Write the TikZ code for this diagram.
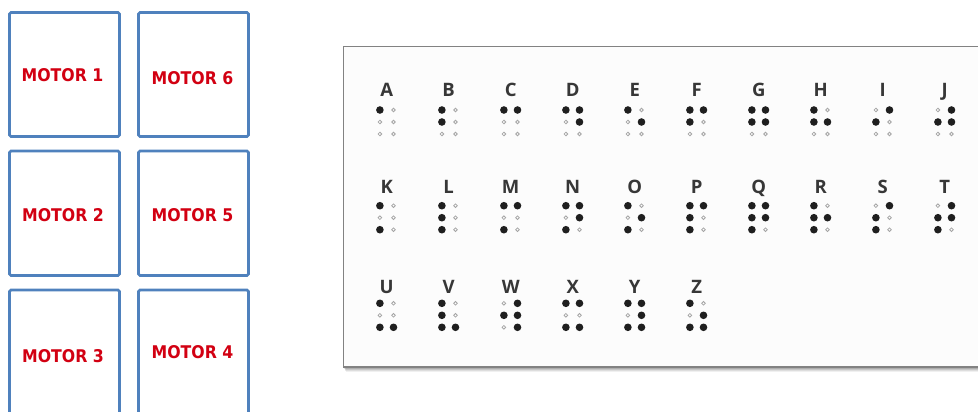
\documentclass[tikz,border=0pt]{standalone}
\usepackage{fontspec}
\setmainfont{Open Sans}
\newfontfamily\motorfont{DejaVu Sans Condensed}
\newfontfamily\letterfont{Open Sans}
\definecolor{boxblue}{RGB}{79,129,189}
\definecolor{motorred}{RGB}{210,0,18}
\definecolor{lettergray}{RGB}{55,55,55}
\definecolor{panelborder}{RGB}{130,130,130}
\definecolor{emptydot}{RGB}{165,165,165}
\tikzset{
  motorbox/.style={draw=boxblue, line width=2.6pt, rounded corners=1.5pt, fill=white},
  motorlabel/.style={text=motorred, font=\motorfont\bfseries\fontsize{17.5}{18}\selectfont, inner sep=0pt},
  brletter/.style={text=lettergray, font=\letterfont\bfseries\fontsize{18.5}{20}\selectfont, inner sep=0pt, anchor=base},
  fulldot/.style={fill=black!88, draw=none},
  emptydotst/.style={draw=emptydot, line width=0.8pt, fill=white}
}
\newcommand{\brchar}[5]{% #1 name, #2 x, #3 letter baseline y, #4 dot y, #5 pattern list
  \node[brletter] (#1) at (#2,#3) {#1};
  \foreach \d in {1,...,6} {
    \pgfmathsetmacro{\colx}{(\d<4) ? -6.8 : 6.8}
    \pgfmathsetmacro{\rowy}{mod(\d-1,3)*12}
    \coordinate (#1d\d) at ({#2+\colx},{#4+\rowy});
    \filldraw[emptydotst] (#1d\d) circle (1.8);
  }
  \foreach \d in {#5} {
    \fill[fulldot] (#1d\d) circle (3.8);
  }
}
\begin{document}
\begin{tikzpicture}[x=1pt,y=-1pt]
\useasboundingbox (0,0) rectangle (978,412);
\clip (0,0) rectangle (978,412);
% motor boxes
\draw[motorbox] (9.5,12.5) rectangle (119.5,136.5);
\draw[motorbox] (138.5,12.5) rectangle (248.5,136.5);
\draw[motorbox] (9.5,151) rectangle (119.5,275.5);
\draw[motorbox] (138.5,151) rectangle (248.5,275.5);
\draw[motorbox] (9.5,290) rectangle (119.5,420);
\draw[motorbox] (138.5,290) rectangle (248.5,420);
\node[motorlabel] (m1) at (62.5,75) {MOTOR 1};
\node[motorlabel] (m6) at (192.5,78) {MOTOR 6};
\node[motorlabel] (m2) at (63,215) {MOTOR 2};
\node[motorlabel] (m5) at (192.5,215) {MOTOR 5};
\node[motorlabel] (m3) at (63,356) {MOTOR 3};
\node[motorlabel] (m4) at (192.5,352.5) {MOTOR 4};
% panel shadow
\foreach \o/\a in {5/0.06,4/0.08,3/0.1,2/0.12,1/0.14} {
  \fill[black, opacity=\a] (343.5+\o*0.4,46.7+\o) rectangle (1000,367+\o);
}
\draw[panelborder, line width=1.3pt, fill={rgb,255:red,252;green,252;blue,252}] (343.5,46.7) rectangle (1000,367);
% braille rows
\brchar{A}{386.7}{96}{110}{1}
\brchar{B}{448.7}{96}{110}{1,2}
\brchar{C}{510.7}{96}{110}{1,4}
\brchar{D}{572.7}{96}{110}{1,4,5}
\brchar{E}{634.7}{96}{110}{1,5}
\brchar{F}{696.7}{96}{110}{1,2,4}
\brchar{G}{758.7}{96}{110}{1,2,4,5}
\brchar{H}{820.7}{96}{110}{1,2,5}
\brchar{I}{882.7}{96}{110}{2,4}
\brchar{J}{944.7}{96}{110}{2,4,5}
\brchar{K}{386.7}{193.5}{205.7}{1,3}
\brchar{L}{448.7}{193.5}{205.7}{1,2,3}
\brchar{M}{510.7}{193.5}{205.7}{1,3,4}
\brchar{N}{572.7}{193.5}{205.7}{1,3,4,5}
\brchar{O}{634.7}{193.5}{205.7}{1,3,5}
\brchar{P}{696.7}{193.5}{205.7}{1,2,3,4}
\brchar{Q}{758.7}{193.5}{205.7}{1,2,3,4,5}
\brchar{R}{820.7}{193.5}{205.7}{1,2,3,5}
\brchar{S}{882.7}{193.5}{205.7}{2,3,4}
\brchar{T}{944.7}{193.5}{205.7}{2,3,4,5}
\brchar{U}{386.7}{293}{303.3}{1,3,6}
\brchar{V}{448.7}{293}{303.3}{1,2,3,6}
\brchar{W}{510.7}{293}{303.3}{2,4,5,6}
\brchar{X}{572.7}{293}{303.3}{1,3,4,6}
\brchar{Y}{634.7}{293}{303.3}{1,3,4,5,6}
\brchar{Z}{696.7}{293}{303.3}{1,3,5,6}
\end{tikzpicture}
\end{document}
